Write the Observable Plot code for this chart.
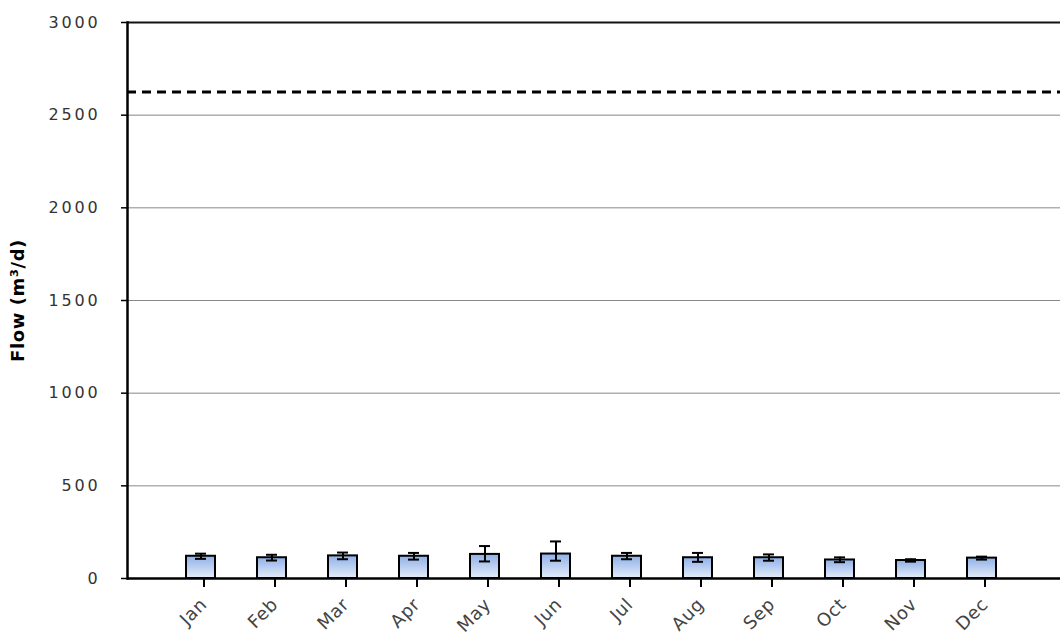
<!DOCTYPE html>
<html>
<head>
<meta charset="utf-8">
<script src="https://cdn.jsdelivr.net/npm/d3@7"></script>
<script src="https://cdn.jsdelivr.net/npm/@observablehq/plot@0.6"></script>
<style>
  html, body { margin: 0; padding: 0; background: #fff; }
  #chart svg { display: block; }
  g[aria-label="y-axis label"] text { font-weight: bold; fill: #000; font-size: 18px; letter-spacing: 0.6px; }
  g[aria-label="y-axis tick label"] text { font-size: 16px; letter-spacing: 2.8px; }
  g[aria-label="x-axis tick label"] text { font-size: 18px; letter-spacing: 0.6px; }
</style>
</head>
<body>
<div id="chart"></div>
<script>
const months = ["Jan","Feb","Mar","Apr","May","Jun","Jul","Aug","Sep","Oct","Nov","Dec"];
const flow     = [120, 112, 122, 120, 130, 132, 120, 112, 112, 100, 97, 110];
const flowLow  = [106,  97, 104, 102,  92,  96, 104,  90,  96,  88, 91, 102];
const flowHigh = [134, 128, 140, 138, 175, 200, 138, 138, 130, 114, 104, 118];
const yTicks = [0, 500, 1000, 1500, 2000, 2500, 3000];
const gridValues = [500, 1000, 1500, 2000, 2500];
const designFlow = [2625];

const data = months.map((m, i) => ({month: m, flow: flow[i], low: flowLow[i], high: flowHigh[i]}));

const chart = Plot.plot({
  width: 1060,
  height: 643,
  marginLeft: 127,
  marginRight: 0,
  marginTop: 22,
  marginBottom: 65,
  style: {fontFamily: "'DejaVu Sans', Verdana, sans-serif", fontSize: "15px", background: "#fff", color: "#333"},
  x: {domain: months, paddingInner: 0.59, paddingOuter: 0.295, insetLeft: 38, insetRight: 42},
  y: {domain: [0, 3000]},
  marks: [
    Plot.ruleY(gridValues, {stroke: "#888", strokeWidth: 1}),
    Plot.ruleY(designFlow, {stroke: "#000", strokeWidth: 3, strokeDasharray: "9,6"}),
    Plot.ruleY([3000], {stroke: "#111", strokeWidth: 2}),
    Plot.barY(data, {x: "month", y: "flow", fill: "url(#barGrad)", stroke: "#000", strokeWidth: 2}),
    Plot.ruleX(data, {x: "month", y1: "low", y2: "high", stroke: "#000", strokeWidth: 2}),
    Plot.tickY(data, {x: "month", y: "high", stroke: "#000", strokeWidth: 2, insetLeft: 9, insetRight: 9}),
    Plot.tickY(data, {x: "month", y: "low", stroke: "#000", strokeWidth: 2, insetLeft: 9, insetRight: 9}),
    Plot.ruleY([0], {stroke: "#000", strokeWidth: 2.5}),
    Plot.frame({anchor: "left", stroke: "#000", strokeWidth: 2.5}),
    Plot.axisY({ticks: yTicks, tickSize: 6, tickPadding: 21, tickFormat: d => String(d), stroke: "#000", strokeWidth: 1.5,
      label: "Flow (m³/d)", labelAnchor: "center", labelArrow: "none", labelOffset: 116, color: "#333"}),
    Plot.axisX({tickSize: 9, tickPadding: 14, tickRotate: -45, stroke: "#000", strokeWidth: 2, label: null, color: "#444", dx: 3})
  ]
});

const defs = d3.select(chart).insert("defs", ":first-child");
const grad = defs.append("linearGradient").attr("id", "barGrad").attr("x1", 0).attr("y1", 0).attr("x2", 0).attr("y2", 1);
grad.append("stop").attr("offset", "0%").attr("stop-color", "#8fb0e6");
grad.append("stop").attr("offset", "100%").attr("stop-color", "#e4edfa");

document.getElementById("chart").appendChild(chart);
</script>
</body>
</html>
